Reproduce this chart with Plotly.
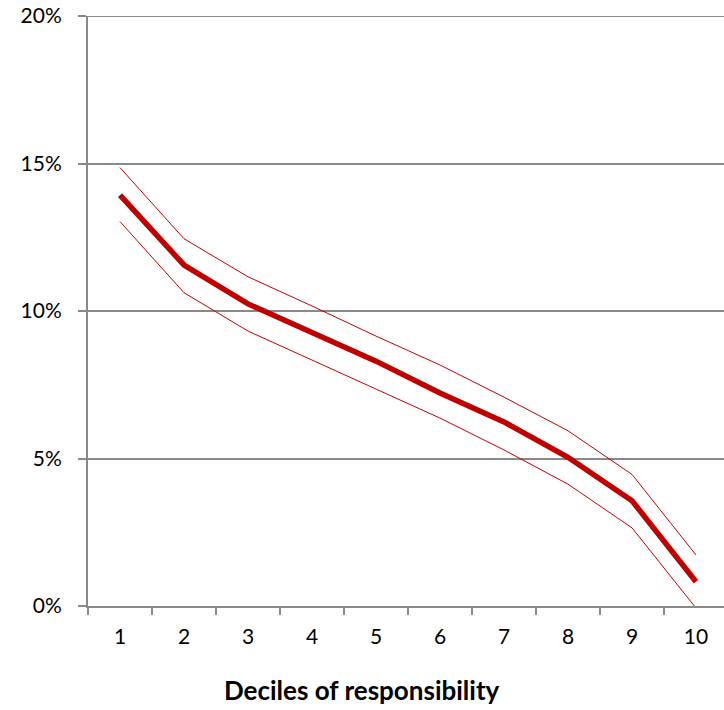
import plotly.graph_objects as go

deciles = ["1", "2", "3", "4", "5", "6", "7", "8", "9", "10"]
estimate = [0.1393, 0.1156, 0.1024, 0.0925, 0.0830, 0.0722, 0.0624, 0.0504, 0.0357, 0.0082]
upper = [0.1486, 0.1245, 0.1116, 0.1017, 0.0915, 0.0817, 0.0708, 0.0594, 0.0446, 0.0173]
lower = [0.1303, 0.1062, 0.0932, 0.0834, 0.0736, 0.0637, 0.0529, 0.0413, 0.0265, -0.0007]
y_ticks = [0, 0.05, 0.10, 0.15, 0.20]
x_title = "Deciles of responsibility"

RED = "#C00000"
GRID = "#898989"
FONT = "Lato, 'Open Sans', sans-serif"

fig = go.Figure()
fig.add_trace(go.Scatter(x=deciles, y=upper, mode="lines",
                         line=dict(color=RED, width=1), showlegend=False))
fig.add_trace(go.Scatter(x=deciles, y=lower, mode="lines",
                         line=dict(color=RED, width=1), showlegend=False))
fig.add_trace(go.Scatter(x=deciles, y=estimate, mode="lines",
                         line=dict(color=RED, width=5.5), showlegend=False))

# top gridline (plotly omits the gridline at the range edge)
fig.add_shape(type="line", xref="paper", yref="y",
              x0=0, x1=1, y0=y_ticks[-1], y1=y_ticks[-1],
              line=dict(color=GRID, width=2), layer="below")

fig.add_annotation(
    text="<b>" + x_title + "</b>",
    xref="paper", yref="paper",
    x=(362 - 88) / 636, y=-(690 - 606) / 590,
    xanchor="center", yanchor="middle",
    showarrow=False,
    font=dict(family=FONT, size=26, color="#000000"),
)

fig.update_layout(
    width=724, height=710,
    margin=dict(l=88, r=0, t=16, b=104, autoexpand=False),
    paper_bgcolor="white", plot_bgcolor="white",
    font=dict(family=FONT, size=21, color="#000000"),
    xaxis=dict(
        type="category",
        range=[-0.5, 9.4375],
        tickson="boundaries",
        ticks="outside", ticklen=7, tickwidth=2, tickcolor=GRID,
        showline=True, linecolor=GRID, linewidth=2,
        showgrid=False, zeroline=False,
        tickfont=dict(family=FONT, size=21),
        ticklabelstandoff=11,
    ),
    yaxis=dict(
        range=[0, 0.2],
        tickvals=y_ticks,
        tickformat=".0%",
        ticks="outside", ticklen=8, tickwidth=2, tickcolor=GRID,
        showline=True, linecolor=GRID, linewidth=2,
        showgrid=True, gridcolor=GRID, gridwidth=2,
        zeroline=False,
        tickfont=dict(family=FONT, size=21),
        ticklabelstandoff=12,
    ),
)

fig.write_html(
    "out.html",
    config={"displayModeBar": False, "staticPlot": True},
    post_script="document.body.style.margin='0';document.body.style.overflow='hidden';",
)
